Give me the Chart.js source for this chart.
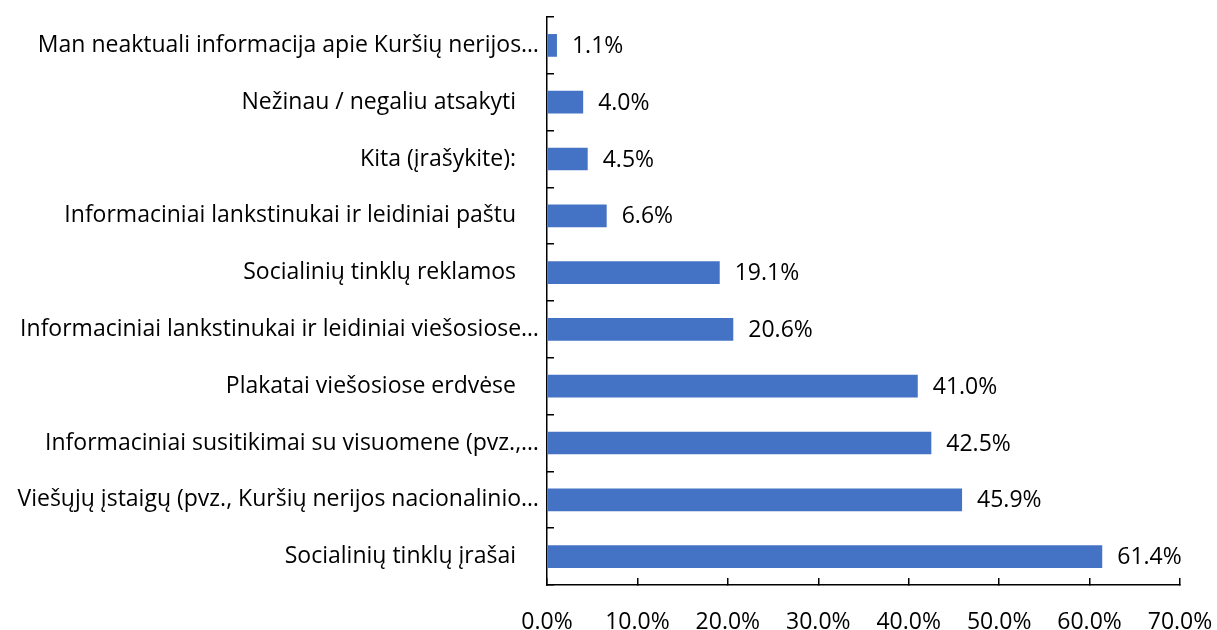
<!DOCTYPE html>
<html>
<head>
<meta charset="utf-8">
<script src="https://cdn.jsdelivr.net/npm/chart.js@4.4.0/dist/chart.umd.min.js"></script>
<style>
  html, body { margin: 0; padding: 0; background: #fff; }
</style>
</head>
<body>
<canvas id="info_canvas" width="1217" height="630"></canvas>
<script>
var categories = [
    "Man neaktuali informacija apie Kuršių nerijos…",
    "Nežinau / negaliu atsakyti",
    "Kita (įrašykite):",
    "Informaciniai lankstinukai ir leidiniai paštu",
    "Socialinių tinklų reklamos",
    "Informaciniai lankstinukai ir leidiniai viešosiose…",
    "Plakatai viešosiose erdvėse",
    "Informaciniai susitikimai su visuomene (pvz.,…",
    "Viešųjų įstaigų (pvz., Kuršių nerijos nacionalinio…",
    "Socialinių tinklų įrašai"
];
var shares = [1.1, 4.0, 4.5, 6.6, 19.1, 20.6, 41.0, 42.5, 45.9, 61.4];
var xTicks = [0, 10, 20, 30, 40, 50, 60, 70];

var font = { family: "'Open Sans', 'Noto Sans', sans-serif", size: 23 };

// percent label to the right of each bar
var valueLabels = {
    id: 'valueLabels',
    afterDatasetsDraw: function(chart) {
        var ctx = chart.ctx;
        var meta = chart.getDatasetMeta(0);
        ctx.save();
        ctx.font = font.size + 'px ' + font.family;
        ctx.fillStyle = '#000';
        ctx.textAlign = 'left';
        ctx.textBaseline = 'middle';
        meta.data.forEach(function(bar, i) {
            ctx.fillText(shares[i].toFixed(1) + '%', bar.x + 15, bar.y + 1);
        });
        ctx.restore();
    }
};

// tick marks point into the plot, hence the negative tickLength
var barChart = new Chart(document.getElementById('info_canvas'), {
    type: 'bar',
    data: {
        labels: categories,
        datasets: [{
            data: shares,
            backgroundColor: '#4472C4',
            borderWidth: 0,
            barPercentage: 0.4,
            categoryPercentage: 1.0
        }]
    },
    options: {
        indexAxis: 'y',
        responsive: false,
        animation: false,
        layout: { padding: { top: 17, right: 37, left: 0, bottom: 0 } },
        plugins: {
            legend: { display: false },
            tooltip: { enabled: false }
        },
        scales: {
            x: {
                min: 0,
                max: 70,
                afterBuildTicks: function(scale) {
                    scale.ticks = xTicks.map(function(v) { return { value: v }; });
                },
                afterFit: function(scale) {
                    scale.height = 45;
                    scale.paddingLeft = 0;
                    scale.paddingRight = 0;
                },
                border: { color: '#000', width: 1.5 },
                grid: { drawOnChartArea: false, tickLength: -7, color: '#000', lineWidth: 1.5 },
                ticks: {
                    color: '#000',
                    font: font,
                    padding: 31,
                    maxRotation: 0,
                    callback: function(v) { return v.toFixed(1) + '%'; }
                }
            },
            y: {
                afterFit: function(scale) {
                    scale.width = 547;
                    scale.paddingTop = 0;
                    scale.paddingBottom = 0;
                },
                border: { color: '#000', width: 1.5 },
                grid: { drawOnChartArea: false, offset: true, tickLength: -7, color: '#000', lineWidth: 1.5 },
                ticks: {
                    color: '#000',
                    font: font,
                    padding: 15,
                    callback: function(v, i) {
                        var s = categories[i];
                        return s.endsWith('…') ? s : s + '\u2003';
                    }
                }
            }
        }
    },
    plugins: [valueLabels]
});
</script>
</body>
</html>
